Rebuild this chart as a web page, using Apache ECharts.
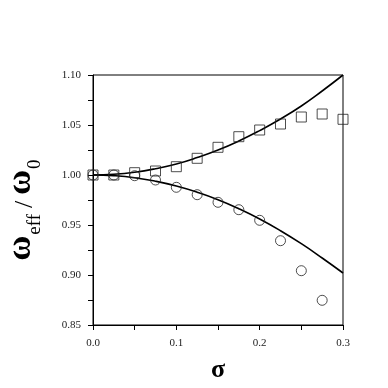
<!DOCTYPE html>
<html>
<head>
<meta charset="utf-8">
<script src="https://cdn.jsdelivr.net/npm/echarts@6/dist/echarts.min.js"></script>
<style>
  html, body { margin: 0; padding: 0; background: #fff; }
  #main { width: 388px; height: 388px; }
</style>
</head>
<body>
<div id="main"></div>
<script>
// sigma values (x)
const sigma = [0, 0.025, 0.05, 0.075, 0.1, 0.125, 0.15, 0.175, 0.2, 0.225, 0.25, 0.275, 0.3];
// square markers
const squareVals = [1.000, 1.000, 1.0023, 1.004, 1.0083, 1.0167, 1.0277, 1.0383, 1.045, 1.051, 1.058, 1.061, 1.0557];
// circle markers (none at 0.3)
const circleVals = [1.000, 1.000, 0.9993, 0.995, 0.9877, 0.9803, 0.9727, 0.9653, 0.9547, 0.9343, 0.9043, 0.8747];
// solid curves
const upperCurve = [1.000, 1.0007, 1.0028, 1.0063, 1.011, 1.0174, 1.025, 1.034, 1.0444, 1.056, 1.069, 1.084, 1.100];
const lowerCurve = [1.000, 0.9993, 0.9973, 0.9938, 0.989, 0.9828, 0.9753, 0.9663, 0.956, 0.9443, 0.9313, 0.917, 0.902];

const yTicks = { min: 0.85, max: 1.10, step: 0.05 };
const xTicks = { min: 0, max: 0.3, step: 0.1 };

const pairs = (xs, ys) => ys.map((v, i) => [xs[i], v]);
const serif = '"Liberation Serif", "DejaVu Serif", serif';

var chart = echarts.init(document.getElementById('main'));
chart.setOption({
    animation: false,
    grid: {
        left: 93, right: 45, top: 75, bottom: 63,
        outerBoundsMode: 'none',
        containLabel: false,
        show: true, borderColor: '#000', borderWidth: 1,
        backgroundColor: 'transparent'
    },
    xAxis: {
        type: 'value',
        min: xTicks.min, max: xTicks.max, interval: xTicks.step,
        name: 'σ',
        nameLocation: 'middle',
        nameGap: 32,
        nameTextStyle: { fontFamily: serif, fontWeight: 'bold', fontSize: 26, color: '#000' },
        axisLine: { show: true, onZero: false, lineStyle: { color: '#000', width: 1 } },
        axisTick: { show: true, inside: false, length: 5, lineStyle: { color: '#000' } },
        minorTick: { show: true, splitNumber: 2, length: 5, lineStyle: { color: '#000' } },
        splitLine: { show: false },
        axisLabel: {
            fontFamily: serif, fontSize: 11, color: '#222', margin: 13,
            formatter: v => v.toFixed(1)
        }
    },
    yAxis: {
        type: 'value',
        min: yTicks.min, max: yTicks.max, interval: yTicks.step,
        name: '{w|ω}{s|eff}{sl|/}{w|ω}{s|0}',
        nameLocation: 'middle',
        nameRotate: 90,
        nameGap: 55,
        nameTextStyle: {
            padding: [0, 20, 0, 0],
            rich: {
                w: { fontFamily: serif, fontWeight: 'bold', fontSize: 34, color: '#000', lineHeight: 36, verticalAlign: 'bottom' },
                s: { fontFamily: serif, fontSize: 19, color: '#000', lineHeight: 36, verticalAlign: 'bottom', padding: [0, 0, -7, 1] },
                sl: { fontFamily: serif, fontSize: 26, color: '#000', lineHeight: 36, verticalAlign: 'bottom', padding: [0, 6, 0, 6] }
            }
        },
        axisLine: { show: true, onZero: false, lineStyle: { color: '#000', width: 1 } },
        axisTick: { show: true, inside: false, length: 5, lineStyle: { color: '#000' } },
        minorTick: { show: true, splitNumber: 2, length: 5, lineStyle: { color: '#000' } },
        splitLine: { show: false },
        axisLabel: {
            fontFamily: serif, fontSize: 11, color: '#222', margin: 12,
            formatter: v => v.toFixed(2)
        }
    },
    series: [
        {
            name: 'upper', type: 'line', data: pairs(sigma, upperCurve),
            smooth: true, showSymbol: false,
            lineStyle: { color: '#000', width: 1.6 }, z: 2
        },
        {
            name: 'lower', type: 'line', data: pairs(sigma, lowerCurve),
            smooth: true, showSymbol: false,
            lineStyle: { color: '#000', width: 1.6 }, z: 2
        },
        {
            name: 'squares', type: 'scatter', data: pairs(sigma, squareVals),
            symbol: 'rect', symbolSize: 10,
            itemStyle: { color: 'rgba(0,0,0,0)', borderColor: '#222', borderWidth: 1 }, z: 3
        },
        {
            name: 'circles', type: 'scatter', data: pairs(sigma, circleVals),
            symbol: 'circle', symbolSize: 10,
            itemStyle: { color: 'rgba(0,0,0,0)', borderColor: '#222', borderWidth: 1 }, z: 3
        }
    ]
});
</script>
</body>
</html>
